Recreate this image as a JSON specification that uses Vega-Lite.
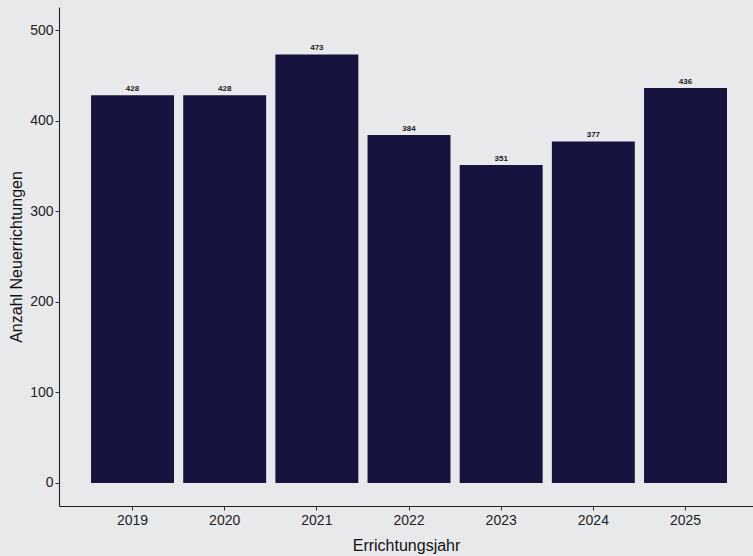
{
  "$schema": "https://vega.github.io/schema/vega-lite/v6.json",
  "autosize": {"type": "none"},
  "width": 694,
  "height": 499,
  "padding": {"left": 59, "top": 7, "right": 0, "bottom": 50},
  "background": "#E8E9EB",
  "config": {
    "view": {"stroke": null, "fill": "#E8E9EB"},
    "font": "Liberation Sans",
    "axis": {
      "grid": false,
      "domainColor": "#222222",
      "domainWidth": 1.1,
      "tickColor": "#333333",
      "tickSize": 4,
      "labelColor": "#222222",
      "labelFontSize": 14,
      "labelFont": "Liberation Sans",
      "titleFont": "Liberation Sans",
      "titleFontSize": 16,
      "titleFontWeight": "normal",
      "titleColor": "#111111"
    }
  },
  "data": {
    "values": [
      {"jahr": "2019", "anzahl": 428},
      {"jahr": "2020", "anzahl": 428},
      {"jahr": "2021", "anzahl": 473},
      {"jahr": "2022", "anzahl": 384},
      {"jahr": "2023", "anzahl": 351},
      {"jahr": "2024", "anzahl": 377},
      {"jahr": "2025", "anzahl": 436}
    ]
  },
  "encoding": {
    "x": {
      "field": "jahr",
      "type": "ordinal",
      "title": "Errichtungsjahr",
      "scale": {"paddingInner": 0.1, "paddingOuter": 0.315, "align": 0.552},
      "axis": {"labelAngle": 0, "labelPadding": 3, "titlePadding": 10}
    }
  },
  "layer": [
    {
      "mark": {"type": "bar", "color": "#16133F"},
      "encoding": {
        "y": {
          "field": "anzahl",
          "type": "quantitative",
          "title": "Anzahl Neuerrichtungen",
          "scale": {"domain": [-25.4, 525.4], "nice": false, "zero": false},
          "axis": {"values": [0, 100, 200, 300, 400, 500], "labelPadding": 2, "titlePadding": 5}
        },
        "y2": {"datum": 0}
      }
    },
    {
      "mark": {"type": "text", "baseline": "bottom", "dy": -2, "fontSize": 8, "fontWeight": "bold", "color": "#1a1a1a", "font": "Liberation Sans"},
      "encoding": {
        "y": {"field": "anzahl", "type": "quantitative"},
        "text": {"field": "anzahl", "type": "quantitative"}
      }
    }
  ]
}
